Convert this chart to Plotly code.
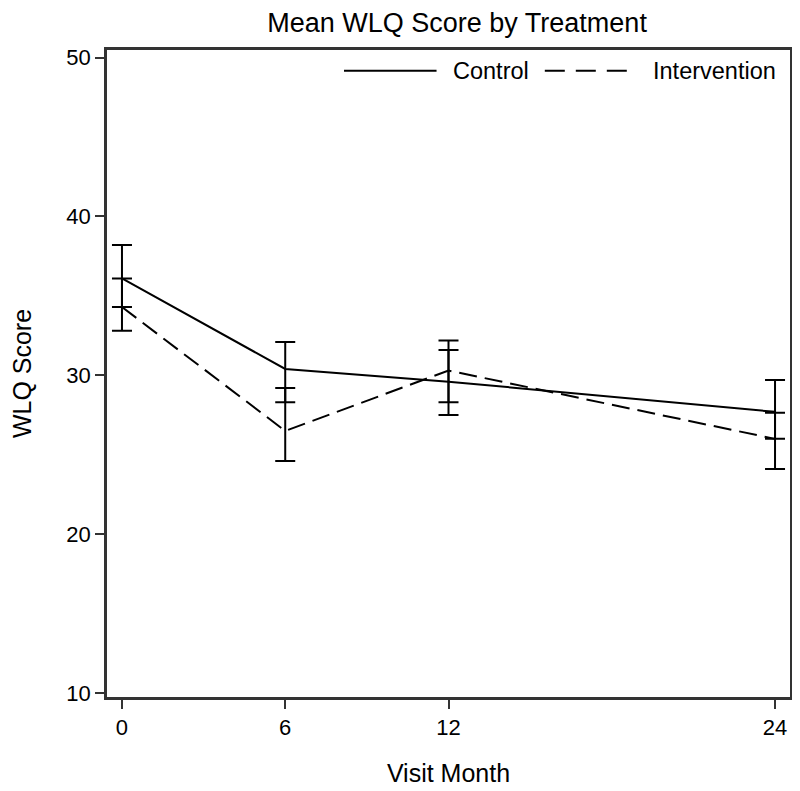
import plotly.graph_objects as go

# visit months and group means with CI limits
months = [0, 6, 12, 24]
control_mean = [36.1, 30.4, 29.6, 27.7]
control_upper = [38.2, 32.1, 31.6, 29.7]
control_lower = [34.3, 28.3, 27.5, 26.0]
intervention_mean = [34.3, 26.5, 30.3, 26.0]
intervention_upper = [36.1, 29.2, 32.2, 27.65]
intervention_lower = [32.8, 24.6, 28.3, 24.1]

font_family = "Arial, Liberation Sans, sans-serif"


def err(mean, upper, lower, dash):
    return go.Scatter(
        x=months, y=mean, mode='lines',
        line=dict(color='black', width=2, dash=dash),
        error_y=dict(type='data', symmetric=False,
                     array=[u - m for u, m in zip(upper, mean)],
                     arrayminus=[m - l for m, l in zip(mean, lower)],
                     color='black', thickness=2, width=10),
        showlegend=False)


fig = go.Figure()
fig.add_trace(err(control_mean, control_upper, control_lower, 'solid'))
fig.add_trace(err(intervention_mean, intervention_upper, intervention_lower, '18px,8px'))

# legend drawn by hand so the line samples are long like the original
fig.add_shape(type='line', xref='paper', yref='paper', x0=0.347, x1=0.4825, y0=0.968, y1=0.968,
              line=dict(color='black', width=2))
fig.add_shape(type='line', xref='paper', yref='paper', x0=0.641, x1=0.768, y0=0.968, y1=0.968,
              line=dict(color='black', width=2, dash='20px,11px'))
fig.add_annotation(text='Control', xref='paper', yref='paper', x=0.503, y=0.968,
                   xanchor='left', yanchor='middle', showarrow=False,
                   font=dict(size=23.5, color='black', family=font_family))
fig.add_annotation(text='Intervention', xref='paper', yref='paper', x=0.796, y=0.968,
                   xanchor='left', yanchor='middle', showarrow=False,
                   font=dict(size=23.5, color='black', family=font_family))

axis_common = dict(showline=True, mirror=True, linecolor='#333', linewidth=2.5,
                   ticks='outside', ticklen=9, tickwidth=2, tickcolor='#333',
                   showgrid=False, zeroline=False,
                   tickfont=dict(size=22, color='black', family=font_family))

# page body has an 8px margin, so the figure is sized/offset to compensate
fig.update_layout(
    width=792, height=783,
    margin=dict(l=99, r=7, t=42, b=93),
    paper_bgcolor='white', plot_bgcolor='white',
    title=dict(text='Mean WLQ Score by Treatment', x=0.567, xanchor='center', y=0.981, yanchor='middle',
               font=dict(size=27, color='black', family=font_family)),
    xaxis=dict(axis_common, range=[-0.55, 24.55], tickvals=months,
               title=dict(text='Visit Month', standoff=26,
                          font=dict(size=25, color='black', family=font_family))),
    yaxis=dict(axis_common, range=[9.75, 50.48], tickvals=[10, 20, 30, 40, 50],
               title=dict(text='WLQ Score', standoff=32,
                          font=dict(size=25, color='black', family=font_family))),
)

fig.write_html("out.html")
